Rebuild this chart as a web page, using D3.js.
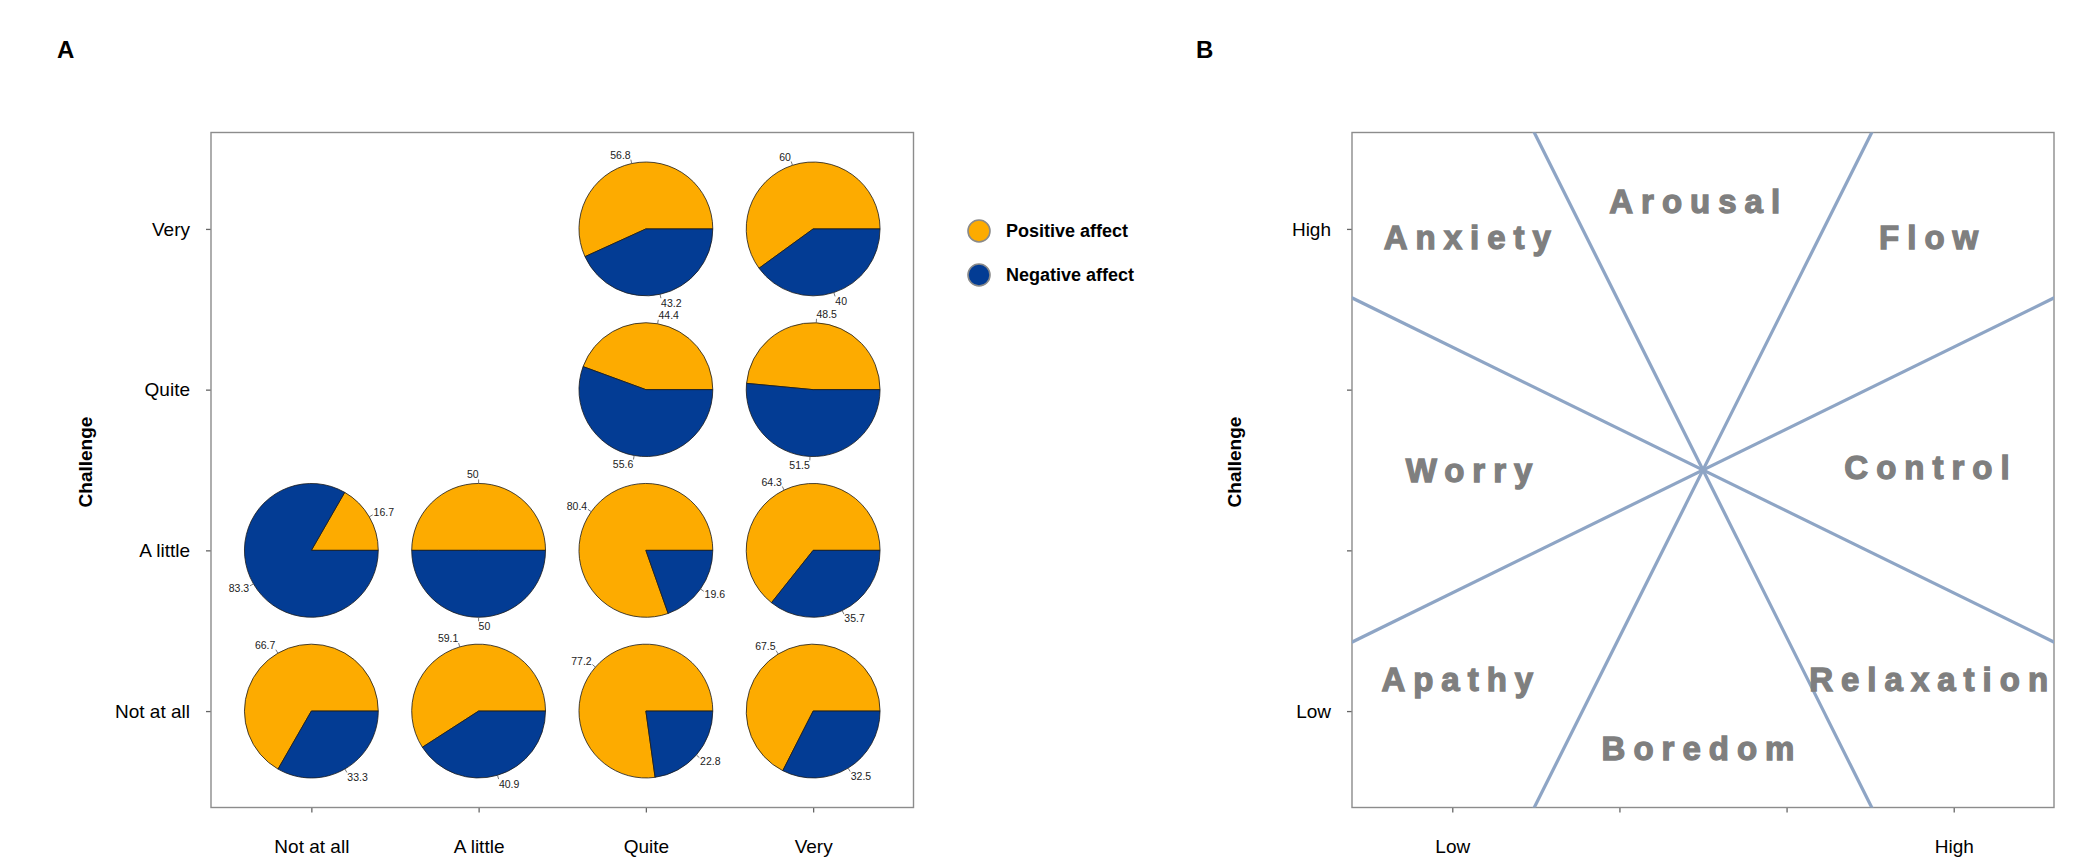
<!DOCTYPE html>
<html>
<head>
<meta charset="utf-8">
<script src="https://cdn.jsdelivr.net/npm/d3@7"></script>
<style>
  body { margin: 0; background: #fff; }
  text { font-family: "Liberation Sans", Arial, sans-serif; }
</style>
</head>
<body>
<svg id="visualization" width="2096" height="866"></svg>
<script>
// panel A data
const skillLevels = ["Not at all", "A little", "Quite", "Very"];
const challengeLevels = ["Not at all", "A little", "Quite", "Very"];
const seriesNames = ["Positive affect", "Negative affect"];
const cellSkill = ["Quite", "Very", "Quite", "Very", "Not at all", "A little", "Quite", "Very", "Not at all", "A little", "Quite", "Very"];
const cellChallenge = ["Very", "Very", "Quite", "Quite", "A little", "A little", "A little", "A little", "Not at all", "Not at all", "Not at all", "Not at all"];
const positiveAffect = [56.8, 60, 44.4, 48.5, 16.7, 50, 80.4, 64.3, 66.7, 59.1, 77.2, 67.5];
const negativeAffect = [43.2, 40, 55.6, 51.5, 83.3, 50, 19.6, 35.7, 33.3, 40.9, 22.8, 32.5];

// panel B data
const levelTicks = ["Low", "", "", "High"];
const stateNames = ["Arousal", "Anxiety", "Flow", "Worry", "Control", "Apathy", "Relaxation", "Boredom"];
const stateSkill = [2.45, 1.09, 3.85, 1.1, 3.84, 1.03, 3.85, 2.47];
const stateChallenge = [4.17, 3.95, 3.95, 2.5, 2.52, 1.2, 1.2, 0.77];
const channelSlopes = [-2.08, 2.08, -0.51, 0.51];
const channelCenter = [2.5, 2.5];

const svg = d3.select("#visualization");
const colors = ["#fdab00", "#033c94"];
const frameColor = "#8c8c8c";
const plotTop = 132.5, plotBottom = 807.5;

function frameAndAxes(g, left, right, xAxis, yAxis) {
    g.append("g")
        .attr("transform", `translate(0,${plotBottom})`)
        .call(xAxis)
        .call(a => a.select(".domain").remove())
        .call(a => a.selectAll("line").attr("stroke", "#666").attr("stroke-width", 1.3))
        .call(a => a.selectAll("text").attr("dy", "1.95em").attr("font-size", 19).attr("fill", "#000"));
    g.append("g")
        .attr("transform", `translate(${left},0)`)
        .call(yAxis)
        .call(a => a.select(".domain").remove())
        .call(a => a.selectAll("line").attr("stroke", "#666").attr("stroke-width", 1.3))
        .call(a => a.selectAll("text").attr("x", -21).attr("font-size", 19).attr("fill", "#000"));
    g.append("rect")
        .attr("x", left).attr("y", plotTop)
        .attr("width", right - left).attr("height", plotBottom - plotTop)
        .attr("fill", "none")
        .attr("stroke", frameColor)
        .attr("stroke-width", 1.4);
}

function yTitle(g, cx) {
    g.append("text")
        .attr("transform", `translate(${cx},462) rotate(-90)`)
        .attr("text-anchor", "middle")
        .attr("dy", "0.35em")
        .attr("font-size", 19)
        .attr("font-weight", "bold")
        .text("Challenge");
}

// **Panel A: pies**
function drawPanelA() {
    const left = 211, right = 913.5;
    const g = svg.append("g");
    const x = d3.scalePoint().domain(skillLevels).range([left, right]).padding(0.6);
    const y = d3.scalePoint().domain(challengeLevels).range([plotBottom, plotTop]).padding(0.6);

    g.append("text").attr("x", 57).attr("y", 58)
        .attr("font-size", 24).attr("font-weight", "bold").text("A");

    frameAndAxes(g, left, right,
        d3.axisBottom(x).tickSize(5).tickPadding(3),
        d3.axisLeft(y).tickSize(5));
    yTitle(g, 85);

    const r = x.step() * 0.4;
    const pie = d3.pie().sort(null).startAngle(Math.PI / 2).endAngle(Math.PI / 2 - 2 * Math.PI);
    const arc = d3.arc().innerRadius(0).outerRadius(r);

    positiveAffect.forEach((p, i) => {
        const cell = g.append("g")
            .attr("transform", `translate(${x(cellSkill[i])},${y(cellChallenge[i])})`);
        const slices = pie([p, negativeAffect[i]]);

        cell.selectAll("path")
            .data(slices)
            .enter().append("path")
            .attr("d", arc)
            .attr("fill", (d, k) => colors[k])
            .attr("stroke", "#1a1a1a")
            .attr("stroke-width", 0.8);

        // 標籤與短引線
        slices.forEach(s => {
            const mid = (s.startAngle + s.endAngle) / 2;
            const sx = Math.sin(mid), sy = -Math.cos(mid);
            cell.append("line")
                .attr("x1", sx * r).attr("y1", sy * r)
                .attr("x2", sx * (r + 4)).attr("y2", sy * (r + 4))
                .attr("stroke", "#555").attr("stroke-width", 0.8);
            const tx = sx * (r + 5);
            const ty = sy * (r + 5) + sy * 4;
            cell.append("text")
                .attr("x", tx).attr("y", ty)
                .attr("dy", "0.36em")
                .attr("text-anchor", sx >= 0 ? "start" : "end")
                .attr("font-size", 10.5)
                .attr("fill", "#222")
                .text(s.data);
        });
    });

    // legend
    const legend = g.append("g");
    seriesNames.forEach((name, k) => {
        legend.append("circle")
            .attr("cx", 979).attr("cy", 231 + k * 44)
            .attr("r", 11)
            .attr("fill", colors[k])
            .attr("stroke", "#8a8a8a")
            .attr("stroke-width", 1.6);
        legend.append("text")
            .attr("x", 1006).attr("y", 231 + k * 44)
            .attr("dy", "0.36em")
            .attr("font-size", 18)
            .attr("font-weight", "bold")
            .text(name);
    });
}

// **Panel B: flow channels**
function drawPanelB() {
    const left = 1352, right = 2054;
    const g = svg.append("g");
    const x = d3.scaleLinear().domain([0.4, 4.6]).range([left, right]);
    const y = d3.scaleLinear().domain([0.4, 4.6]).range([plotBottom, plotTop]);

    g.append("text").attr("x", 1196).attr("y", 58)
        .attr("font-size", 24).attr("font-weight", "bold").text("B");

    frameAndAxes(g, left, right,
        d3.axisBottom(x).tickValues([1, 2, 3, 4]).tickFormat(v => levelTicks[v - 1]).tickSize(5).tickPadding(3),
        d3.axisLeft(y).tickValues([1, 2, 3, 4]).tickFormat(v => levelTicks[v - 1]).tickSize(5));
    yTitle(g, 1234);

    svg.append("clipPath").attr("id", "clipB")
        .append("rect")
        .attr("x", left).attr("y", plotTop)
        .attr("width", right - left).attr("height", plotBottom - plotTop);

    const lines = g.append("g").attr("clip-path", "url(#clipB)");
    channelSlopes.forEach(m => {
        const [cx, cy] = channelCenter;
        lines.append("line")
            .attr("x1", x(cx - 3)).attr("y1", y(cy - 3 * m))
            .attr("x2", x(cx + 3)).attr("y2", y(cy + 3 * m))
            .attr("stroke", "#8ea5c5")
            .attr("stroke-width", 3.2);
    });

    const spacing = 8;
    stateNames.forEach((name, i) => {
        g.append("text")
            .attr("x", x(stateSkill[i]) + spacing / 2)
            .attr("y", y(stateChallenge[i]))
            .attr("dy", "0.36em")
            .attr("text-anchor", "middle")
            .attr("font-size", 33)
            .attr("font-weight", "bold")
            .attr("letter-spacing", spacing)
            .attr("fill", "#7f7f7f")
            .attr("stroke", "#7f7f7f")
            .attr("stroke-width", 1.3)
            .text(name);
    });
}

drawPanelA();
drawPanelB();
</script>
</body>
</html>
